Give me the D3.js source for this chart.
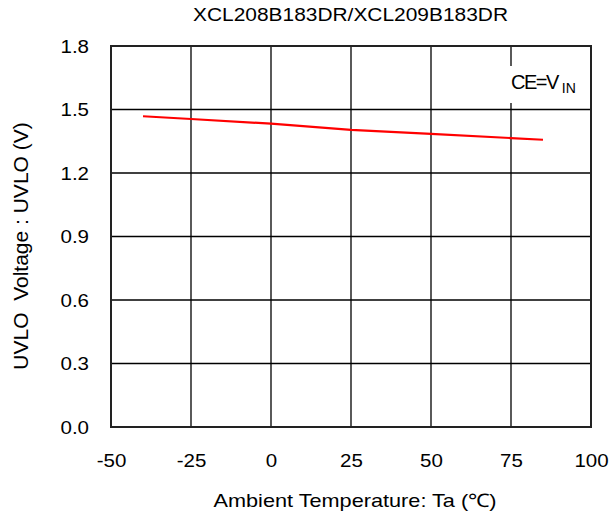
<!DOCTYPE html>
<html><head><meta charset="utf-8">
<script src="https://cdn.jsdelivr.net/npm/d3@7"></script>
<style>body{margin:0;background:#fff}text{font-family:"Liberation Sans",Arial,sans-serif;fill:#000}</style>
</head><body><svg id="c" width="612" height="520"></svg>
<script>
const temps = [-40, -25, 0, 25, 50, 75, 85];
const uvlo = [1.468, 1.455, 1.433, 1.404, 1.385, 1.365, 1.357];
const xTicks = [-50, -25, 0, 25, 50, 75, 100];
const yTicks = [0.0, 0.3, 0.6, 0.9, 1.2, 1.5, 1.8];
const title = "XCL208B183DR/XCL209B183DR";
const xTitle = "Ambient Temperature: Ta (\u2103)";
const yTitle = "UVLO  Voltage : UVLO (V)";

const svg = d3.select("#c");
const L = 111, R = 591, T = 46, B = 427;
const x = d3.scaleLinear().domain([-50, 100]).range([L, R]);
const y = d3.scaleLinear().domain([0, 1.8]).range([B, T]);
function widen(stretch){ return sel => sel.each(function(){ const w=this.getComputedTextLength(); d3.select(this).attr("textLength", w*stretch).attr("lengthAdjust","spacingAndGlyphs"); }); }

// grid
svg.append("g").selectAll("line").data(xTicks.slice(1,-1)).join("line")
  .attr("x1", d=>x(d)).attr("x2", d=>x(d)).attr("y1", T).attr("y2", B)
  .attr("stroke", "#000").attr("stroke-width", 1.3);
svg.append("g").selectAll("line").data(yTicks.slice(1,-1)).join("line")
  .attr("y1", d=>y(d)).attr("y2", d=>y(d)).attr("x1", L).attr("x2", R)
  .attr("stroke", "#000").attr("stroke-width", 1.3);

// label box
const box = svg.append("g");
box.append("rect").attr("x", 500).attr("y", 66).attr("width", 88).attr("height", 37).attr("fill", "#fff");
const ce = box.append("text").attr("x", 511).attr("y", 89).attr("font-size", 20);
ce.append("tspan").text("CE=V").attr("letter-spacing", -1.5);
ce.append("tspan").text("IN").attr("font-size", 14).attr("dx", 4).attr("dy", 4);

// border
svg.append("rect").attr("x", L).attr("y", T).attr("width", R-L).attr("height", B-T)
  .attr("fill", "none").attr("stroke", "#222").attr("stroke-width", 2);

// axes labels
const ax = svg.append("g").attr("transform", `translate(0,${B})`)
  .call(d3.axisBottom(x).tickValues(xTicks).tickSize(0).tickPadding(0).tickFormat(d => String(d)));
ax.select(".domain").remove();
ax.selectAll("text").attr("font-size", 18).attr("y", 40).attr("dy", 0).attr("font-family", "Liberation Sans, Arial, sans-serif").call(widen(1.14));

const ay = svg.append("g").attr("transform", `translate(${L},0)`)
  .call(d3.axisLeft(y).tickValues(yTicks).tickSize(0).tickPadding(0).tickFormat(d3.format(".1f")));
ay.select(".domain").remove();
ay.selectAll("text").attr("font-size", 18).attr("x", -22).attr("dy", "0.36em").attr("font-family", "Liberation Sans, Arial, sans-serif").call(widen(1.14));

// line
svg.append("path").datum(temps.map((t,i)=>[t, uvlo[i]]))
  .attr("d", d3.line().x(d=>x(d[0])).y(d=>y(d[1])))
  .attr("fill", "none").attr("stroke", "#ff0000").attr("stroke-width", 2.2);

// titles
svg.append("text").attr("x", 350.5).attr("y", 21).attr("text-anchor", "middle").attr("font-size", 17.5)
  .attr("textLength", 315).attr("lengthAdjust", "spacingAndGlyphs").text(title);
svg.append("text").attr("x", 355).attr("y", 507).attr("text-anchor", "middle").attr("font-size", 18.5)
  .attr("textLength", 283).attr("lengthAdjust", "spacingAndGlyphs").text(xTitle);
svg.append("text").attr("transform", "translate(28,246) rotate(-90)").attr("text-anchor", "middle")
  .attr("font-size", 21).style("white-space", "pre").text(yTitle);
</script></body></html>
